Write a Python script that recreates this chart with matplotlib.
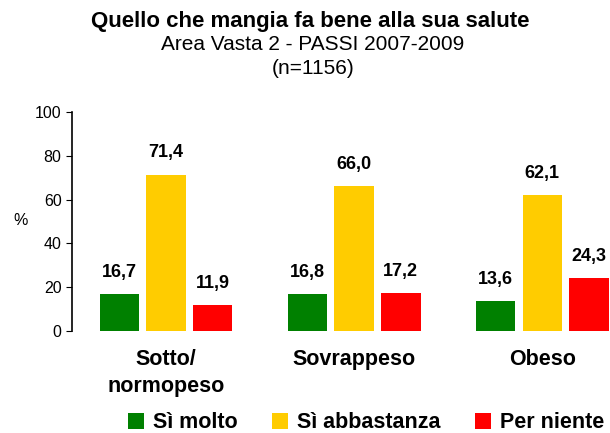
import matplotlib
matplotlib.use('Agg')
import matplotlib.pyplot as plt
import numpy as np

plt.rcParams['font.family'] = ['Liberation Sans', 'DejaVu Sans']

categories = ["Sotto/\nnormopeso", "Sovrappeso", "Obeso"]
series_names = ["Sì molto", "Sì abbastanza", "Per niente"]
si_molto = [16.7, 16.8, 13.6]
si_abbastanza = [71.4, 66.0, 62.1]
per_niente = [11.9, 17.2, 24.3]
colors = ["#008000", "#FFCC00", "#FF0000"]

values = [si_molto, si_abbastanza, per_niente]

fig = plt.figure(figsize=(6.10, 4.33), dpi=100)
ax = fig.add_axes([72/610, 1 - 331/433, 1 - 72/610, (331 - 112)/433])

x = np.arange(len(categories))
w = 0.21
step = 0.248
for i, (vals, col, name) in enumerate(zip(values, colors, series_names)):
    pos = x + (i - 1) * step
    ax.bar(pos, vals, width=w, color=col, label=name)
    for p, v in zip(pos, vals):
        ax.text(p, v + 6, f"{v:.1f}".replace(".", ","), ha='center', va='bottom',
                fontsize=13, fontweight='bold')

ax.set_xlim(-0.5, 2.36)
ax.set_ylim(0, 100)
ax.set_yticks(range(0, 101, 20))
ax.tick_params(axis='y', labelsize=11.5, length=4, direction='out')
ax.tick_params(axis='x', length=0, pad=13)
ax.set_xticks(x)
ax.set_xticklabels(categories, fontsize=15.5, fontweight='bold', linespacing=1.4, va='top')
for s in ['top', 'right', 'bottom']:
    ax.spines[s].set_visible(False)
ax.spines['left'].set_linewidth(1.2)

fig.text(21/610, 1 - 220/433, "%", fontsize=11.5, ha='center', va='center')

fig.text(310/610, 1 - 22/433, "Quello che mangia fa bene alla sua salute", ha='center', va='center',
         fontsize=16, fontweight='bold')
fig.text(313/610, 1 - 44/433, "Area Vasta 2 - PASSI 2007-2009", ha='center', va='center', fontsize=15)
fig.text(313/610, 1 - 68/433, "(n=1156)", ha='center', va='center', fontsize=15)

fig.legend(loc='center', bbox_to_anchor=(366/610, 1 - 423/433), ncol=3, frameon=False,
           prop={'size': 15.5, 'weight': 'bold'}, handlelength=0.75, handleheight=0.75,
           handletextpad=0.4, columnspacing=1.6, borderaxespad=0)

fig.savefig("out.png", dpi=100)
